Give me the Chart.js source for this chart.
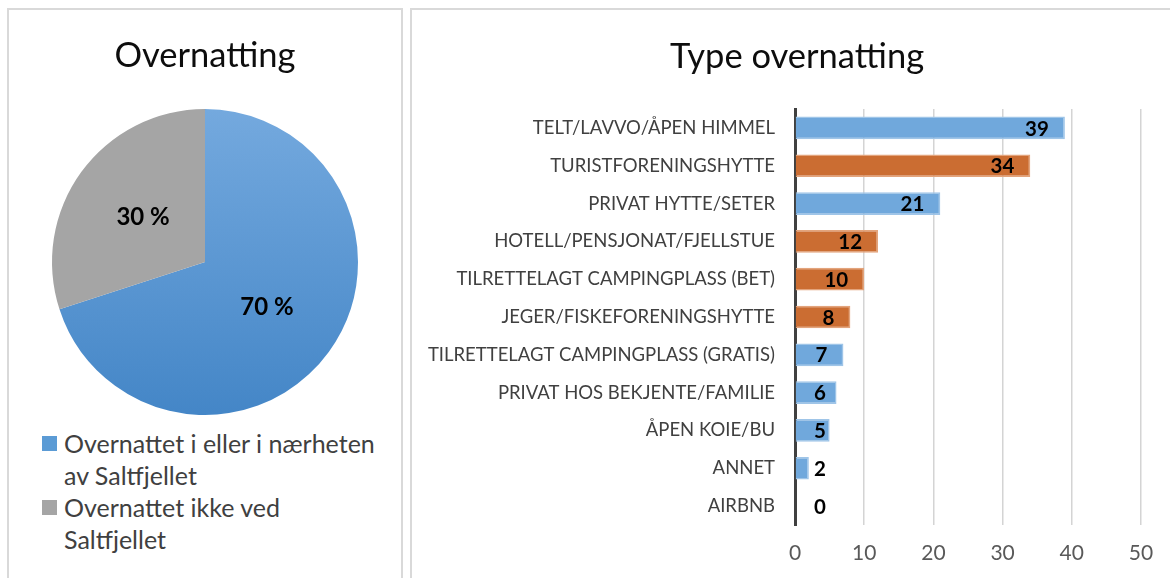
<!DOCTYPE html>
<html lang="no">
<head>
    <meta charset="utf-8">
    <title>Overnatting</title>
    <script src="https://cdn.jsdelivr.net/npm/chart.js"></script>
    <style>
        body {
            margin: 0;
            background: #fff;
            font-family: Lato, "Liberation Sans", sans-serif;
            width: 1170px;
            height: 578px;
            overflow: hidden;
            position: relative;
        }

        .panel {
            position: absolute;
            border: 2px solid #d9d9d9;
            border-bottom: none;
            box-sizing: border-box;
        }

        #leftPanel { left: 7px; top: 8px; width: 396px; height: 572px; }
        #rightPanel { left: 410px; top: 8px; width: 770px; height: 572px; }

        #pieWrap { position: absolute; left: 9px; top: 10px; width: 392px; height: 410px; }
        #barWrap { position: absolute; left: 412px; top: 10px; width: 758px; height: 568px; }

        #barTitle {
            position: absolute;
            left: 412px;
            width: 770px;
            top: 34px;
            text-align: center;
            font-size: 34.5px;
            line-height: 41px;
            color: #0d0d0d;
        }

        .legend {
            position: absolute;
            left: 42px;
            top: 427px;
            color: #404040;
            font-size: 25px;
            line-height: 32px;
        }

        .legend .item { display: flex; align-items: flex-start; }
        .legend .box { width: 15px; height: 15px; margin: 9px 7px 0 0; flex: none; }
    </style>
</head>
<body>

<div class="panel" id="leftPanel"></div>
<div class="panel" id="rightPanel"></div>

<div id="pieWrap"><canvas id="chartPie"></canvas></div>
<div id="barWrap"><canvas id="chartBars"></canvas></div>
<div id="barTitle">Type overnatting</div>

<div class="legend" id="pieLegend"></div>

<script>
    // Pie: Overnatting
    const pieLabels = [['Overnattet i eller i nærheten', 'av Saltfjellet'], ['Overnattet ikke ved', 'Saltfjellet']];
    const pieValues = [70, 30];
    const pieColors = ['#5b9bd5', '#a5a5a5'];

    // Bars: Type overnatting
    const barCategories = [
        'TELT/LAVVO/ÅPEN HIMMEL',
        'TURISTFORENINGSHYTTE',
        'PRIVAT HYTTE/SETER',
        'HOTELL/PENSJONAT/FJELLSTUE',
        'TILRETTELAGT CAMPINGPLASS (BET)',
        'JEGER/FISKEFORENINGSHYTTE',
        'TILRETTELAGT CAMPINGPLASS (GRATIS)',
        'PRIVAT HOS BEKJENTE/FAMILIE',
        'ÅPEN KOIE/BU',
        'ANNET',
        'AIRBNB'
    ];
    const barValues = [39, 34, 21, 12, 10, 8, 7, 6, 5, 2, 0];
    // 'b' = blå, 'o' = oransje
    const barColorKeys = ['b', 'o', 'b', 'o', 'o', 'o', 'b', 'b', 'b', 'b', 'b'];
    const xTicks = [0, 10, 20, 30, 40, 50];

    const BLUE = '#70a8dc', BLUE_EDGE = '#9fc5e8';
    const ORANGE = '#cb6d32', ORANGE_EDGE = '#e3a47c';

    Chart.defaults.font.family = 'Lato, "Liberation Sans", sans-serif';

    // legend (html, so the long text can wrap like the original)
    const legendEl = document.getElementById('pieLegend');
    pieLabels.forEach((lines, i) => {
        const item = document.createElement('div');
        item.className = 'item';
        item.innerHTML = '<span class="box" style="background:' + pieColors[i] + '"></span><span>' + lines.join('<br>') + '</span>';
        legendEl.appendChild(item);
    });

    const piePercent = {
        id: 'piePercent',
        afterDatasetsDraw(chart) {
            const ctx = chart.ctx;
            const meta = chart.getDatasetMeta(0);
            ctx.save();
            ctx.font = 'bold 24px Lato, "Liberation Sans", sans-serif';
            ctx.fillStyle = '#000';
            ctx.textAlign = 'center';
            ctx.textBaseline = 'middle';
            meta.data.forEach((arc, i) => {
                const p = arc.getProps(['x', 'y', 'startAngle', 'endAngle', 'outerRadius'], true);
                const mid = (p.startAngle + p.endAngle) / 2;
                const r = p.outerRadius * 0.5;
                ctx.fillText(pieValues[i] + ' %', p.x + Math.cos(mid) * r, p.y + Math.sin(mid) * r);
            });
            ctx.restore();
        }
    };

    new Chart(document.getElementById('chartPie'), {
        type: 'pie',
        data: {
            labels: pieLabels.map(l => l.join(' ')),
            datasets: [{
                data: pieValues,
                borderWidth: 0,
                backgroundColor: c => {
                    if (c.dataIndex !== 0) return pieColors[1];
                    const area = c.chart.chartArea;
                    if (!area) return pieColors[0];
                    const g = c.chart.ctx.createLinearGradient(0, area.top, 0, area.bottom);
                    g.addColorStop(0, '#74a9de');
                    g.addColorStop(1, '#4486c7');
                    return g;
                }
            }]
        },
        options: {
            responsive: true,
            maintainAspectRatio: false,
            animation: false,
            layout: { padding: { top: 0, bottom: 5 } },
            plugins: {
                legend: { display: false },
                tooltip: { enabled: false },
                title: {
                    display: true,
                    text: 'Overnatting',
                    color: '#0d0d0d',
                    font: { size: 34.5, weight: 'normal' },
                    padding: { top: 25, bottom: 32.6 }
                }
            }
        },
        plugins: [piePercent]
    });

    const barValueLabels = {
        id: 'barValueLabels',
        afterDatasetsDraw(chart) {
            const ctx = chart.ctx;
            const xScale = chart.scales.x;
            const meta = chart.getDatasetMeta(0);
            const zero = xScale.getPixelForValue(0);
            ctx.save();
            ctx.font = 'bold 20.5px Lato, "Liberation Sans", sans-serif';
            ctx.fillStyle = '#000';
            ctx.textBaseline = 'middle';
            ctx.textAlign = 'left';
            meta.data.forEach((bar, i) => {
                const text = String(barValues[i]);
                const w = ctx.measureText(text).width;
                const left = Math.max(bar.x - 16 - w, zero + 19);
                ctx.fillText(text, left, bar.y + 1);
            });
            ctx.restore();
        }
    };

    new Chart(document.getElementById('chartBars'), {
        type: 'bar',
        data: {
            labels: barCategories,
            datasets: [{
                data: barValues,
                backgroundColor: barColorKeys.map(k => k === 'b' ? BLUE : ORANGE),
                borderColor: barColorKeys.map(k => k === 'b' ? BLUE_EDGE : ORANGE_EDGE),
                borderWidth: 1.5,
                borderSkipped: 'start',
                categoryPercentage: 1,
                barPercentage: 0.6
            }]
        },
        options: {
            indexAxis: 'y',
            responsive: true,
            maintainAspectRatio: false,
            animation: false,
            // top padding leaves room for the html title
            layout: { padding: { left: 0, right: 29, top: 99, bottom: 0 } },
            scales: {
                x: {
                    min: 0,
                    max: 50,
                    afterBuildTicks: s => { s.ticks = xTicks.map(v => ({ value: v })); },
                    afterFit: s => { s.height = 53; },
                    grid: {
                        color: c => c.tick && c.tick.value === 0 ? 'rgba(0,0,0,0)' : '#d4d4d4',
                        lineWidth: 1.5,
                        drawTicks: false
                    },
                    border: { display: false },
                    ticks: {
                        color: '#595959',
                        font: { size: 21 },
                        padding: 16
                    }
                },
                y: {
                    afterFit: s => { s.width = 383; },
                    grid: { display: false, drawTicks: false },
                    border: { color: '#404040', width: 3 },
                    ticks: {
                        color: '#404040',
                        font: { size: 18.5 },
                        padding: 20
                    }
                }
            },
            plugins: {
                legend: { display: false },
                tooltip: { enabled: false },
                title: { display: false }
            }
        },
        plugins: [barValueLabels]
    });
</script>
</body>
</html>
